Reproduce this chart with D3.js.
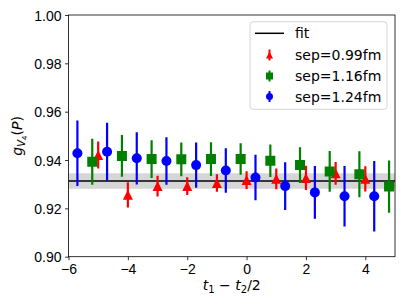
<!DOCTYPE html>
<html>
<head>
<meta charset="utf-8">
<script src="https://cdn.jsdelivr.net/npm/d3@7"></script>
<style>
  html, body { margin: 0; padding: 0; background: #fff; overflow: hidden; }
  svg { display: block; font-family: "DejaVu Sans", sans-serif; }
</style>
</head>
<body>
<div id="chart"></div>
<script>
// data
const xTicks = [-6, -4, -2, 0, 2, 4];
const yTicks = [0.90, 0.92, 0.94, 0.96, 0.98, 1.00];

const redX = [-5, -4, -3, -2, -1, 0, 1, 2, 3, 4];
const redY = [0.9421, 0.9256, 0.9292, 0.9292, 0.9305, 0.9317, 0.9322, 0.9326, 0.9345, 0.9322];
const redErr = [0.0056, 0.0052, 0.0043, 0.0037, 0.0036, 0.0037, 0.0043, 0.0050, 0.0047, 0.0052];

const greenX = [-5.2, -4.2, -3.2, -2.2, -1.2, -0.2, 0.8, 1.8, 2.8, 3.8, 4.8];
const greenY = [0.9393, 0.9417, 0.9404, 0.9403, 0.9404, 0.9404, 0.9397, 0.9379, 0.9353, 0.9341, 0.9290];
const greenErr = [0.0095, 0.0086, 0.0078, 0.0070, 0.0070, 0.0065, 0.0067, 0.0074, 0.0084, 0.0095, 0.0108];

const blueX = [-5.7, -4.7, -3.7, -2.7, -1.7, -0.7, 0.3, 1.3, 2.3, 3.3, 4.3];
const blueY = [0.9428, 0.9434, 0.9407, 0.9396, 0.9379, 0.9357, 0.9328, 0.9292, 0.9266, 0.9250, 0.9250];
const blueErr = [0.0135, 0.0120, 0.0108, 0.0098, 0.0094, 0.0092, 0.0094, 0.0099, 0.0109, 0.0125, 0.0146];

const fitValue = 0.9313;
const fitErr = 0.0032;

const seriesNames = ['sep=0.99fm', 'sep=1.16fm', 'sep=1.24fm'];

const width = 407, height = 305;
const margin = { top: 15, right: 12, bottom: 48.3, left: 68.5 };
const innerWidth = width - margin.left - margin.right;
const innerHeight = height - margin.top - margin.bottom;

const svg = d3.select('#chart').append('svg')
    .attr('width', width)
    .attr('height', height);

const g = svg.append('g')
    .attr('transform', `translate(${margin.left},${margin.top})`);

const xScale = d3.scaleLinear().domain([-6, 5]).range([0, innerWidth]);
const yScale = d3.scaleLinear().domain([0.90, 1.00]).range([innerHeight, 0]);

g.append('clipPath').attr('id', 'clip')
  .append('rect').attr('width', innerWidth).attr('height', innerHeight);

const plot = g.append('g').attr('clip-path', 'url(#clip)');

// fit band + line
plot.append('rect')
    .attr('x', xScale(-6))
    .attr('width', xScale(5) - xScale(-6))
    .attr('y', yScale(fitValue + fitErr))
    .attr('height', yScale(fitValue - fitErr) - yScale(fitValue + fitErr))
    .attr('fill', '#d6d6d6');

plot.append('line')
    .attr('x1', xScale(-6)).attr('x2', xScale(5))
    .attr('y1', yScale(fitValue)).attr('y2', yScale(fitValue))
    .attr('stroke', '#000').attr('stroke-width', 1.5);

// marker shapes
function markerPath(shape, r) {
    if (shape === 'triangle') return `M0,${-r}L${-r},${r}L${r},${r}Z`;
    if (shape === 'square') return `M${-r},${-r}H${r}V${r}H${-r}Z`;
    return d3.symbol().type(d3.symbolCircle).size(Math.PI * r * r)();
}

const series = [
    { xs: redX, ys: redY, errs: redErr, color: '#ff0000', shape: 'triangle' },
    { xs: greenX, ys: greenY, errs: greenErr, color: '#008000', shape: 'square' },
    { xs: blueX, ys: blueY, errs: blueErr, color: '#0000ff', shape: 'circle' }
];

series.forEach(s => {
    const pts = s.xs.map((x, i) => ({ x, y: s.ys[i], e: s.errs[i] }));
    const sg = plot.append('g');
    sg.selectAll('.err')
        .data(pts)
        .enter()
        .append('line')
        .attr('x1', d => xScale(d.x)).attr('x2', d => xScale(d.x))
        .attr('y1', d => yScale(d.y - d.e)).attr('y2', d => yScale(d.y + d.e))
        .attr('stroke', s.color)
        .attr('stroke-width', 2.2);
    sg.selectAll('.mk')
        .data(pts)
        .enter()
        .append('path')
        .attr('d', markerPath(s.shape, 5))
        .attr('transform', d => `translate(${xScale(d.x)},${yScale(d.y)})`)
        .attr('fill', s.color);
});

// axes
const xAxis = g.append('g')
    .attr('transform', `translate(0,${innerHeight})`)
    .call(d3.axisBottom(xScale).tickValues(xTicks).tickSize(3.5).tickPadding(3.5)
        .tickFormat(d => d < 0 ? '\u2212' + Math.abs(d) : d));
xAxis.selectAll('text').attr('dy', 10);

const yAxis = g.append('g')
    .call(d3.axisLeft(yScale).tickValues(yTicks).tickSize(3.5).tickPadding(3.5)
        .tickFormat(d3.format('.2f')));
yAxis.selectAll('text').attr('dy', 5);

[xAxis, yAxis].forEach(a => {
    a.select('.domain').remove();
    a.selectAll('text').style('font-size', '14px').attr('fill', '#000');
    a.selectAll('line').attr('stroke', '#000').attr('stroke-width', 0.8);
});

// frame
g.append('rect')
    .attr('width', innerWidth).attr('height', innerHeight)
    .attr('fill', 'none').attr('stroke', '#000').attr('stroke-width', 0.8);

// axis labels
const xl = svg.append('text')
    .attr('x', margin.left + innerWidth / 2)
    .attr('y', 290)
    .attr('text-anchor', 'middle')
    .style('font-size', '14px');
xl.append('tspan').style('font-style', 'italic').text('t');
xl.append('tspan').attr('dy', 3).style('font-size', '10px').text('1');
xl.append('tspan').attr('dy', -3).text(' \u2212 ');
xl.append('tspan').style('font-style', 'italic').text('t');
xl.append('tspan').attr('dy', 3).style('font-size', '10px').text('2');
xl.append('tspan').attr('dy', -3).text('/2');

const yl = svg.append('text')
    .attr('transform', `translate(22,${margin.top + innerHeight / 2}) rotate(-90)`)
    .attr('text-anchor', 'middle')
    .style('font-size', '14px');
yl.append('tspan').style('font-style', 'italic').text('g');
yl.append('tspan').attr('dy', 3).style('font-size', '10px').style('font-style', 'italic').text('V');
yl.append('tspan').attr('dy', 2).style('font-size', '7px').text('4');
yl.append('tspan').attr('dy', -5).text('(');
yl.append('tspan').style('font-style', 'italic').text('P');
yl.append('tspan').text(')');

// legend
const legend = svg.append('g');
legend.append('rect')
    .attr('x', 250).attr('y', 21.7)
    .attr('width', 137).attr('height', 87.6)
    .attr('rx', 3)
    .attr('fill', '#fff').attr('fill-opacity', 0.8)
    .attr('stroke', '#cccccc').attr('stroke-width', 0.8);

const rowY = [33.3, 55, 76, 96.5];
legend.append('line')
    .attr('x1', 255).attr('x2', 284)
    .attr('y1', rowY[0]).attr('y2', rowY[0])
    .attr('stroke', '#000').attr('stroke-width', 1.5);
legend.append('text')
    .attr('x', 295).attr('y', rowY[0] + 5)
    .style('font-size', '14px').text('fit');

series.forEach((s, i) => {
    const cy = rowY[i + 1];
    legend.append('line')
        .attr('x1', 269.5).attr('x2', 269.5)
        .attr('y1', cy - 5.5).attr('y2', cy + 5.5)
        .attr('stroke', s.color).attr('stroke-width', 2);
    legend.append('path')
        .attr('d', markerPath(s.shape, 3.5))
        .attr('transform', `translate(269.5,${cy})`)
        .attr('fill', s.color);
    legend.append('text')
        .attr('x', 295).attr('y', cy + 5)
        .style('font-size', '14px').text(seriesNames[i]);
});
</script>
</body>
</html>
